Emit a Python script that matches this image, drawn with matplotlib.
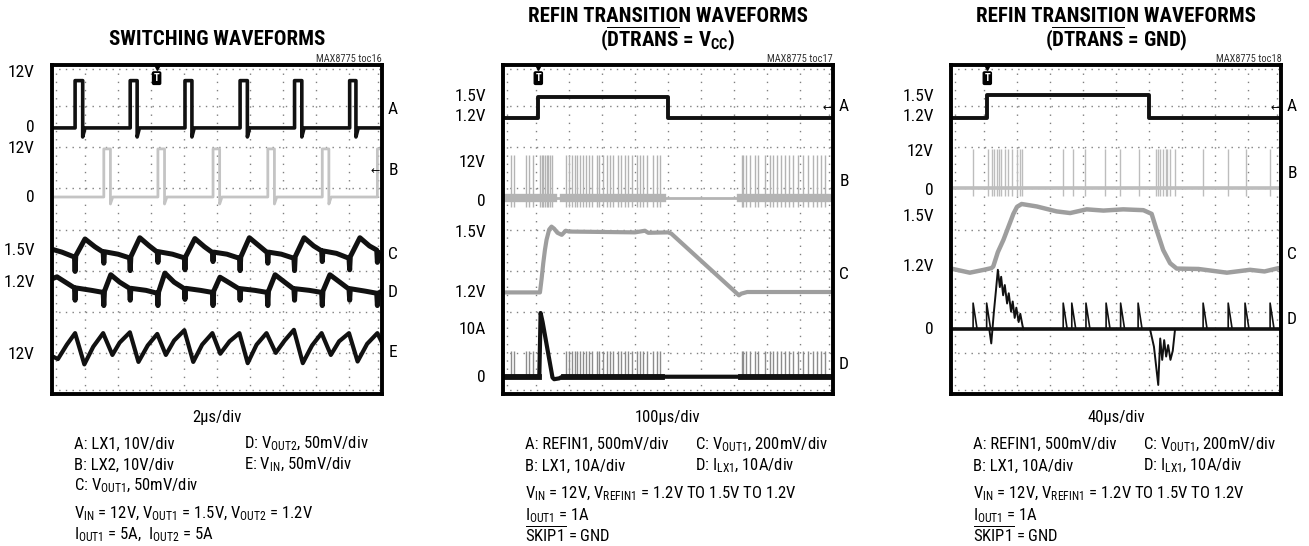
import numpy as np
import matplotlib.pyplot as plt
from matplotlib import font_manager

# pick a narrow sans face if one is installed
fonts = font_manager.fontManager.ttflist
names = {f.name for f in fonts}
FAM, STRETCH = 'Liberation Sans', 'normal'
for cand in ('Liberation Sans Narrow', 'Roboto Condensed', 'Open Sans Condensed',
             'Noto Sans Condensed', 'DejaVu Sans Condensed'):
    if cand in names:
        FAM = cand
        break
else:
    for base in ('DejaVu Sans', 'Noto Sans', 'Roboto', 'Open Sans'):
        if any(f.name == base and 'condensed' in str(f.stretch) for f in fonts):
            FAM, STRETCH = base, 'condensed'
            break

plt.rcParams['font.family'] = [FAM, 'DejaVu Sans']
plt.rcParams['font.stretch'] = STRETCH

# ---------- panel 1: switching waveforms (units = scope divisions) ----------
A1_rise = [0.70, 2.37, 4.03, 5.70, 7.35, 9.02]
A1_fall = [0.93, 2.58, 4.24, 5.92, 7.57, 9.21]
A1_low, A1_high = 6.47, 7.62
B1_rise = [1.57, 3.21, 4.88, 6.54, 8.19, 9.86]
B1_fall = [1.77, 3.41, 5.08, 6.74, 8.39, 10.05]
B1_low, B1_high = 4.79, 5.96

C1 = [(0.00, 3.52), (0.30, 3.45), (0.68, 3.33), (0.70, 2.98), (0.72, 3.36), (1.00, 3.77),
      (1.30, 3.58), (1.55, 3.45), (1.57, 3.18), (1.59, 3.46), (2.00, 3.40), (2.35, 3.31),
      (2.37, 3.00), (2.39, 3.34), (2.66, 3.80), (2.95, 3.60), (3.19, 3.45), (3.21, 3.20),
      (3.23, 3.46), (3.65, 3.40), (4.01, 3.31), (4.03, 3.02), (4.05, 3.34), (4.33, 3.78),
      (4.62, 3.58), (4.86, 3.44), (4.88, 3.22), (4.90, 3.45), (5.30, 3.40), (5.68, 3.30),
      (5.70, 3.00), (5.72, 3.33), (5.98, 3.80), (6.28, 3.60), (6.52, 3.44), (6.54, 3.18),
      (6.56, 3.45), (6.95, 3.40), (7.33, 3.30), (7.35, 3.00), (7.37, 3.34), (7.64, 3.80),
      (7.93, 3.60), (8.17, 3.48), (8.19, 3.22), (8.21, 3.48), (8.62, 3.42), (9.00, 3.30),
      (9.02, 3.02), (9.04, 3.34), (9.33, 3.80), (9.62, 3.60), (9.84, 3.50), (9.86, 3.20),
      (9.88, 3.45), (10.0, 3.30)]

D1 = [(0.00, 2.80), (0.15, 2.85), (0.68, 2.58), (0.70, 2.28), (0.72, 2.58), (1.20, 2.52),
      (1.55, 2.47), (1.57, 2.15), (1.59, 2.50), (1.78, 2.90), (2.05, 2.72), (2.35, 2.57),
      (2.37, 2.28), (2.39, 2.57), (2.85, 2.52), (3.19, 2.45), (3.21, 2.15), (3.23, 2.48),
      (3.42, 2.94), (3.70, 2.72), (4.01, 2.56), (4.03, 2.30), (4.05, 2.57), (4.50, 2.52),
      (4.86, 2.47), (4.88, 2.15), (4.90, 2.50), (5.09, 2.84), (5.38, 2.70), (5.68, 2.55),
      (5.70, 2.28), (5.72, 2.56), (6.15, 2.52), (6.52, 2.47), (6.54, 2.15), (6.56, 2.50),
      (6.76, 2.90), (7.05, 2.72), (7.33, 2.55), (7.35, 2.28), (7.37, 2.56), (7.80, 2.52),
      (8.17, 2.47), (8.19, 2.15), (8.21, 2.50), (8.42, 2.90), (8.72, 2.72), (9.00, 2.55),
      (9.02, 2.28), (9.04, 2.56), (9.50, 2.50), (9.84, 2.45), (9.86, 2.15), (9.88, 2.45),
      (10.0, 2.50)]

E1 = [(0.00, 0.92), (0.18, 0.85), (0.45, 1.20), (0.70, 1.48), (0.98, 0.72), (1.25, 1.15),
      (1.55, 1.48), (1.83, 0.95), (2.05, 1.25), (2.36, 1.50), (2.62, 0.78), (2.90, 1.18),
      (3.19, 1.46), (3.45, 0.95), (3.70, 1.30), (4.01, 1.55), (4.28, 0.78), (4.55, 1.20),
      (4.86, 1.48), (5.10, 0.98), (5.38, 1.28), (5.68, 1.48), (5.93, 0.75), (6.20, 1.20),
      (6.50, 1.48), (6.78, 1.00), (7.05, 1.30), (7.33, 1.56), (7.60, 0.75), (7.88, 1.18),
      (8.17, 1.48), (8.45, 0.95), (8.70, 1.28), (9.00, 1.48), (9.26, 0.79), (9.55, 1.22),
      (9.86, 1.48), (10.0, 1.25)]

left1_text = ['12V', '0', '12V', '0', '1.5V', '1.2V', '12V']
left1_y = [7.81, 6.47, 5.96, 4.79, 3.50, 2.70, 0.95]
right1_text = ['A', 'B', 'C', 'D', 'E']
right1_y = [6.91, 5.43, 3.38, 2.46, 1.02]

# ---------- panel 2: REFIN transition, DTRANS = VCC ----------
A2_edges = [1.07, 5.01]
A2_low, A2_high = 6.71, 7.23
B2_spikes = [0.23, 0.33, 0.70, 0.80, 0.90, 1.12, 1.17, 1.22, 1.27, 1.32, 1.37, 1.42, 1.48,
             1.91, 2.01, 2.08, 2.18, 2.23, 2.33, 2.43, 2.53, 2.61, 2.71, 2.84, 2.92, 3.02,
             3.14, 3.24, 3.34, 3.49, 3.59, 3.70, 3.80, 3.90, 4.05, 4.15, 4.25, 4.37, 4.56,
             4.66, 4.76, 7.23, 7.28, 7.36, 7.48, 7.64, 7.74, 7.94, 8.09, 8.19, 8.29, 8.42,
             8.55, 8.68, 8.80, 8.95, 9.10, 9.25, 9.38, 9.50, 9.65, 9.75]
B2_active = [(0.0, 1.52), (1.86, 4.82), (7.20, 10.0)]
B2_base, B2_top, B2_bottom = 4.77, 5.82, 4.55
C2 = [(0.00, 2.47), (1.12, 2.47), (1.17, 2.80), (1.22, 3.18), (1.27, 3.50), (1.32, 3.75),
      (1.40, 4.00), (1.47, 4.07), (1.55, 4.02), (1.65, 3.92), (1.78, 3.87), (1.90, 3.97),
      (2.00, 3.95), (3.00, 3.94), (4.00, 3.93), (4.30, 3.97), (4.40, 3.92), (5.00, 3.93),
      (5.10, 3.90), (7.15, 2.40), (7.22, 2.44), (7.40, 2.48), (10.0, 2.48)]
D2_peak = [(0.00, 0.42), (1.10, 0.42), (1.14, 1.97), (1.20, 1.75), (1.30, 1.30),
           (1.40, 0.85), (1.50, 0.40), (1.55, 0.36), (1.70, 0.38), (1.80, 0.42), (10.0, 0.42)]
D2_active = [(0.0, 1.10), (1.86, 4.82), (7.20, 10.0)]
D2_base, D2_top = 0.42, 1.04

left2_text = ['1.5V', '1.2V', '12V', '0', '1.5V', '1.2V', '10A', '0']
left2_y = [7.23, 6.74, 5.62, 4.67, 3.92, 2.48, 1.56, 0.41]
right2_text = ['A', 'B', 'C', 'D']
right2_y = [7.00, 5.16, 2.90, 0.71]

# ---------- panel 3: REFIN transition, DTRANS = GND ----------
A3_edges = [1.10, 6.01]
A3_low, A3_high = 6.71, 7.26
B3_spikes = [0.67, 1.13, 1.23, 1.30, 1.38, 1.46, 1.53, 1.64, 1.74, 1.84, 1.99, 2.09, 2.14,
             3.40, 3.69, 4.06, 4.67, 5.12, 5.71, 6.21, 6.27, 6.33, 6.41, 6.50, 6.56, 6.63,
             6.79, 7.65, 8.40, 8.93, 9.67]
B3_base, B3_top, B3_bottom = 5.00, 5.95, 4.82
C3 = [(0.00, 3.05), (0.57, 2.95), (1.00, 3.02), (1.22, 3.06), (1.28, 3.10), (1.42, 3.45),
      (1.59, 3.75), (1.89, 4.38), (2.00, 4.55), (2.14, 4.62), (2.60, 4.56), (3.20, 4.44),
      (3.61, 4.40), (4.11, 4.49), (4.62, 4.46), (5.22, 4.49), (5.83, 4.47), (6.08, 4.38),
      (6.23, 3.99), (6.43, 3.50), (6.64, 3.18), (6.84, 3.05), (7.50, 3.04), (8.36, 2.95),
      (9.06, 3.02), (9.50, 2.98), (9.92, 3.06), (10.0, 3.05)]
D3_pulses = [0.67, 1.08, 3.40, 3.66, 4.09, 4.70, 5.14, 5.67, 7.64, 8.40, 8.91, 9.67]
D3_base, D3_peak = 1.58, 2.21
D3_up = [(1.16, 1.58), (1.22, 1.23), (1.30, 2.00), (1.36, 2.50), (1.42, 3.02), (1.48, 2.60),
         (1.52, 2.85), (1.58, 2.40), (1.63, 2.65), (1.70, 2.20), (1.75, 2.45), (1.82, 2.00),
         (1.87, 2.25), (1.93, 1.85), (1.98, 2.10), (2.05, 1.75), (2.10, 1.95), (2.17, 1.65),
         (2.20, 1.58)]
D3_down = [(5.95, 1.58), (6.03, 1.58), (6.15, 1.15), (6.28, 0.22), (6.34, 1.35), (6.40, 0.83),
           (6.46, 1.31), (6.52, 0.91), (6.58, 1.19), (6.65, 0.83), (6.72, 1.05), (6.79, 1.58)]

left3_text = ['1.5V', '1.2V', '12V', '0', '1.5V', '1.2V', '0']
left3_y = [7.23, 6.74, 5.89, 4.96, 4.31, 3.09, 1.56]
right3_text = ['A', 'B', 'C', 'D']
right3_y = [7.00, 5.37, 3.38, 1.80]

W, H = 1309, 546
fig = plt.figure(figsize=(W / 100, H / 100), dpi=100)


def ftext(x, y, s, **kw):
    # place text using pixel coords of the reference image
    fig.text(x / W, 1 - y / H, s, **kw)


def scope(left):
    ax = fig.add_axes([left / W, (H - 394) / H, 330 / W, 329 / H])
    ax.set_xlim(0, 10)
    ax.set_ylim(0, 8)
    ax.set_xticks([])
    ax.set_yticks([])
    for s in ax.spines.values():
        s.set_linewidth(2.8)
    for i in range(1, 10):
        ax.plot([i, i], [0, 8], color='#808080', lw=1.0, ls=(0, (1, 4.9)), zorder=0)
    for j in range(1, 8):
        ax.plot([0, 10], [j, j], color='#808080', lw=1.0, ls=(0, (1, 3.8)), zorder=0)
    for x in (0.12, 9.88):
        ax.plot([x, x], [0, 8], color='#808080', lw=1.0, ls=(0, (1, 4.9)), zorder=0)
    for y in (0.1, 7.9):
        ax.plot([0, 10], [y, y], color='#808080', lw=1.0, ls=(0, (1, 3.8)), zorder=0)
    return ax


def pulses(rise, fall, low, high, under):
    xs, ys = [0], [low]
    for r, f in zip(rise, fall):
        xs += [r, r, f, f, f + 0.07]
        ys += [low, high, high, under, low]
    xs.append(10)
    ys.append(low)
    return xs, ys


def step(edges, low, high):
    xs = [0, edges[0], edges[0], edges[1], edges[1], 10]
    ys = [low, low, high, high, low, low]
    return xs, ys


def labels(ax, ltext, ly, rtext, ry):
    for t, y in zip(ltext, ly):
        ax.text(-0.52, y, t, ha='right', va='center', fontsize=12.5, clip_on=False)
    for t, y in zip(rtext, ry):
        ax.text(10.33, y, t, ha='center', va='center', fontsize=12.5, clip_on=False)


def trigger(ax, x):
    ax.plot([x], [7.96], marker='v', ms=5, color='black', clip_on=False, zorder=5)
    ax.text(x, 7.68, 'T', fontsize=7.5, color='white', fontweight='bold', ha='center',
            va='center', bbox=dict(boxstyle='round,pad=0.12', fc='black', ec='black'))


def gnd(ax, x, y):
    ax.text(x, y, '\u2190', fontsize=8, ha='center', va='center', family='DejaVu Sans')


black = '#111111'

# panel 1
ax1 = scope(52)
xs, ys = pulses(B1_rise, B1_fall, B1_low, B1_high, 4.62)
ax1.plot(xs, ys, color='#c4c4c4', lw=2.0)
xs, ys = pulses(A1_rise, A1_fall, A1_low, A1_high, 6.25)
ax1.plot(xs, ys, color=black, lw=2.6)
for tr in (C1, D1):
    ax1.plot([p[0] for p in tr], [p[1] for p in tr], color=black, lw=3.6)
ax1.plot([p[0] for p in E1], [p[1] for p in E1], color=black, lw=3.0)
labels(ax1, left1_text, left1_y, right1_text, right1_y)
trigger(ax1, 3.17)
gnd(ax1, 9.8, 5.43)

# panel 2
ax2 = scope(503)
xs, ys = step(A2_edges, A2_low, A2_high)
ax2.plot(xs, ys, color=black, lw=2.8)
ax2.plot([0, 10], [B2_base, B2_base], color='#b4b4b4', lw=2.0)
for a, b in B2_active:
    ax2.plot([a, b], [B2_base, B2_base], color='#b4b4b4', lw=6.0)
ax2.vlines(B2_spikes, B2_bottom, B2_top, color='#b4b4b4', lw=1.0)
ax2.plot([p[0] for p in C2], [p[1] for p in C2], color='#9e9e9e', lw=3.0)
d2 = [x for x in B2_spikes if x < 1.1 or x > 1.8]
ax2.vlines(d2, D2_base, D2_top, color='#8c8c8c', lw=1.0)
ax2.plot([p[0] for p in D2_peak], [p[1] for p in D2_peak], color=black, lw=3.0)
for a, b in D2_active:
    ax2.plot([a, b], [D2_base, D2_base], color=black, lw=4.2)
labels(ax2, left2_text, left2_y, right2_text, right2_y)
trigger(ax2, 1.07)
gnd(ax2, 9.81, 6.95)

# panel 3
ax3 = scope(951)
xs, ys = step(A3_edges, A3_low, A3_high)
ax3.plot(xs, ys, color=black, lw=2.8)
ax3.plot([0, 10], [B3_base, B3_base], color='#bdbdbd', lw=2.6)
ax3.vlines(B3_spikes, B3_bottom, B3_top, color='#bdbdbd', lw=1.0)
ax3.plot([p[0] for p in C3], [p[1] for p in C3], color='#9e9e9e', lw=3.2)
ax3.plot([0, 10], [D3_base, D3_base], color=black, lw=2.6)
for x in D3_pulses:
    ax3.plot([x, x, x + 0.12], [D3_base, D3_peak, D3_base], color=black, lw=1.2)
ax3.plot([p[0] for p in D3_up], [p[1] for p in D3_up], color=black, lw=1.4)
ax3.plot([p[0] for p in D3_down], [p[1] for p in D3_down], color=black, lw=1.4)
labels(ax3, left3_text, left3_y, right3_text, right3_y)
trigger(ax3, 1.10)
gnd(ax3, 9.82, 6.95)

# titles and tags
tfont = dict(fontsize=15, fontweight='bold', ha='center', va='baseline')
ftext(217, 45, 'SWITCHING WAVEFORMS', **tfont)
ftext(668, 21.7, 'REFIN TRANSITION WAVEFORMS', **tfont)
ftext(668, 46.7, r'($\mathregular{\overline{DTRANS}}$ = $\mathregular{V_{CC}}$)', **tfont)
ftext(1116, 21.7, 'REFIN TRANSITION WAVEFORMS', **tfont)
ftext(1116, 46.7, r'($\mathregular{\overline{DTRANS}}$ = GND)', **tfont)
for xr, tag in ((382, 'MAX8775 toc16'), (833, 'MAX8775 toc17'), (1282, 'MAX8775 toc18')):
    ftext(xr, 61.7, tag, fontsize=7.5, ha='right', va='baseline', color='#333333')

# time base and conditions
nf = dict(fontsize=12, ha='left', va='baseline')
ftext(217, 421.7, '2\u03bcs/div', fontsize=12, ha='center', va='baseline')
ftext(74, 448.5, 'A: LX1, 10V/div', **nf)
ftext(244, 448.5, r'D: $\mathregular{V_{OUT2}}$, 50mV/div', **nf)
ftext(74, 469.5, 'B: LX2, 10V/div', **nf)
ftext(244, 469.5, r'E: $\mathregular{V_{IN}}$, 50mV/div', **nf)
ftext(74, 490.5, r'C: $\mathregular{V_{OUT1}}$, 50mV/div', **nf)
ftext(74, 518, r'$\mathregular{V_{IN}}$ = 12V, $\mathregular{V_{OUT1}}$ = 1.5V, '
               r'$\mathregular{V_{OUT2}}$ = 1.2V', **nf)
ftext(74, 539, r'$\mathregular{I_{OUT1}}$ = 5A,  $\mathregular{I_{OUT2}}$ = 5A', **nf)

for cx, x0, x1, tb in ((668, 525, 695, '100\u03bcs/div'), (1116, 973, 1143, '40\u03bcs/div')):
    ftext(cx, 421.7, tb, fontsize=12, ha='center', va='baseline')
    ftext(x0, 449, 'A: REFIN1, 500mV/div', **nf)
    ftext(x1, 449, r'C: $\mathregular{V_{OUT1}}$, 200mV/div', **nf)
    ftext(x0, 470.5, 'B: LX1, 10A/div', **nf)
    ftext(x1, 470.5, r'D: $\mathregular{I_{LX1}}$, 10A/div', **nf)
    ftext(x0, 498.5, r'$\mathregular{V_{IN}}$ = 12V, $\mathregular{V_{REFIN1}}$ = '
                     '1.2V TO 1.5V TO 1.2V', **nf)
    ftext(x0, 520, r'$\mathregular{I_{OUT1}}$ = 1A', **nf)
    ftext(x0, 541.5, r'$\mathregular{\overline{SKIP1}}$ = GND', **nf)

plt.savefig('out.png', dpi=100)
